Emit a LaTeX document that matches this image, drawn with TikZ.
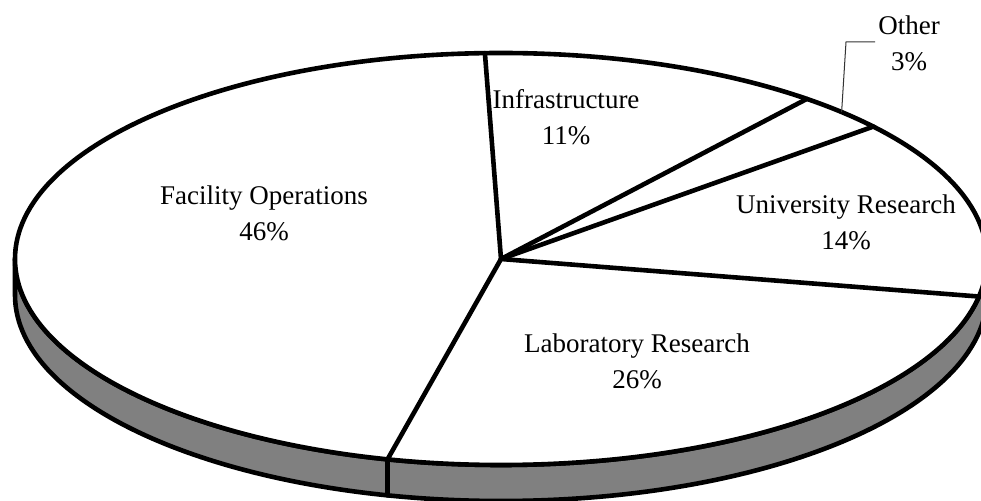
\documentclass[tikz,border=0pt]{standalone}
\usepackage{fontspec}
\setmainfont{Liberation Serif}
\usetikzlibrary{calc}
\definecolor{sidegray}{HTML}{808080}
\tikzset{
  edge/.style={line width=4.6pt, line join=round, line cap=round},
  lbl/.style={align=center, font=\fontsize{27}{36}\selectfont, inner sep=0pt},
  leader/.style={line width=1pt, draw=black!80}
}
\begin{document}
\begin{tikzpicture}[x=1pt,y=1pt]
\useasboundingbox (0,0) rectangle (981,500);
\clip (0,0) rectangle (981,500);
\coordinate (C) at (501,241);
% side
\filldraw[edge, fill=sidegray] (15,241) -- (15,205)
  arc[start angle=180, end angle=360, x radius=486pt, y radius=206pt]
  -- (987,241)
  arc[start angle=0, end angle=-180, x radius=486pt, y radius=206pt] -- cycle;
% top face
\filldraw[edge, fill=white] (C) ellipse [x radius=486pt, y radius=206pt];
% boundary points
\coordinate (p1) at ($(C)+(91.9:486pt and 206pt)$);
\coordinate (p2) at ($(C)+(51:486pt and 206pt)$);
\coordinate (p3) at ($(C)+(40:486pt and 206pt)$);
\coordinate (p4) at ($(C)+(-10.5:486pt and 206pt)$);
\coordinate (p5) at ($(C)+(256.5:486pt and 206pt)$);
\coordinate (p5b) at ($(p5)+(0,-36)$);
\coordinate (lo) at ($(C)+(45.5:486pt and 206pt)$);
% radial lines
\draw[edge] (C) -- (p1);
\draw[edge] (C) -- (p2);
\draw[edge] (C) -- (p3);
\draw[edge] (C) -- (p4);
\draw[edge] (C) -- (p5);
\draw[edge] (p5) -- (p5b);
% labels
\node[lbl] (inf) at (566,383) {Infrastructure\\11\%};
\node[lbl] (oth) at (909,457) {Other\\3\%};
\node[lbl] (fac) at (264,287) {Facility Operations\\46\%};
\node[lbl] (uni) at (846,278) {University Research\\14\%};
\node[lbl] (lab) at (637,139) {Laboratory Research\\26\%};
% leader for Other
\coordinate (l1) at (846,458);
\coordinate (l2) at (875,458);
\draw[leader] (lo) -- (l1) -- (l2);
\end{tikzpicture}
\end{document}
